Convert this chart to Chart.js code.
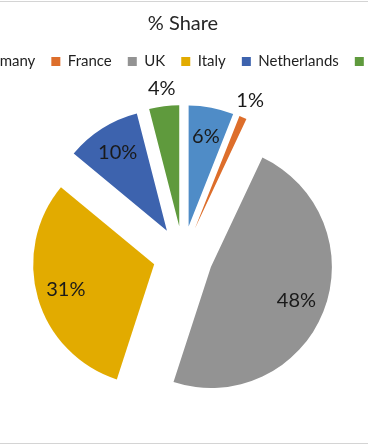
<!DOCTYPE html>
<html>
<head>
<meta charset="utf-8">
<script src="https://cdn.jsdelivr.net/npm/chart.js@4.4.0/dist/chart.umd.min.js"></script>
<style>
  html, body { margin: 0; padding: 0; background: #fff; overflow: hidden; }
  body { width: 368px; height: 445px; position: relative; }
  #frame {
    position: absolute; top: 1px; left: -77px;
    width: 520px; height: 441px;
    border-top: 1px solid #d4d4d4; border-bottom: 1px solid #d4d4d4;
  }
</style>
</head>
<body>
<div id="frame"><canvas id="pie" width="520" height="441"></canvas></div>
<script>
// data
const countries = ['Germany', 'France', 'UK', 'Italy', 'Netherlands', 'Spain'];
const shares = [6, 1, 48, 31, 10, 4];
const colours = ['#4F8CC7', '#DD6E2B', '#939393', '#E2AB00', '#3D63AE', '#5F9A3D'];

const EXPLODE = 30; // px every slice is pulled out

// chart.js offset also grows/shrinks the slices, so pull them out by hand
const explode = {
  id: 'explode',
  beforeDatasetDraw(chart, args) {
    const ctx = chart.ctx;
    args.meta.data.forEach(arc => {
      const p = arc.getProps(['startAngle', 'endAngle'], true);
      const mid = (p.startAngle + p.endAngle) / 2;
      ctx.save();
      ctx.translate(Math.cos(mid) * EXPLODE, Math.sin(mid) * EXPLODE);
      arc.draw(ctx);
      ctx.restore();
    });
    return false;
  }
};

// % labels, inside big slices and just outside small ones
const sliceLabels = {
  id: 'sliceLabels',
  afterDatasetsDraw(chart) {
    const ctx = chart.ctx;
    const meta = chart.getDatasetMeta(0);
    ctx.save();
    ctx.font = '20px Lato';
    ctx.fillStyle = '#1a1a1a';
    ctx.textAlign = 'center';
    ctx.textBaseline = 'middle';
    meta.data.forEach((arc, i) => {
      const p = arc.getProps(['x', 'y', 'startAngle', 'endAngle', 'outerRadius'], true);
      const mid = (p.startAngle + p.endAngle) / 2;
      const r = shares[i] < 5 ? p.outerRadius + 18 : p.outerRadius * 0.76;
      ctx.fillText(shares[i] + '%', p.x + Math.cos(mid) * (EXPLODE + r), p.y + Math.sin(mid) * (EXPLODE + r));
    });
    ctx.restore();
  }
};

new Chart(document.getElementById('pie'), {
  type: 'pie',
  data: {
    labels: countries,
    datasets: [{
      data: shares,
      backgroundColor: colours,
      borderWidth: 0
    }]
  },
  options: {
    responsive: false,
    animation: false,
    events: [],
    radius: 121,
    layout: { padding: { bottom: 10 } },
    plugins: {
      title: {
        display: true,
        text: '% Share',
        color: '#262626',
        font: { family: 'Lato', size: 20, weight: 'normal' },
        padding: { top: 10, bottom: 2 }
      },
      legend: {
        position: 'top',
        labels: {
          color: '#1f1f1f',
          font: { family: 'Lato', size: 15 },
          boxWidth: 9,
          boxHeight: 9,
          padding: 16
        }
      },
      tooltip: { enabled: false }
    }
  },
  plugins: [explode, sliceLabels]
});
</script>
</body>
</html>
